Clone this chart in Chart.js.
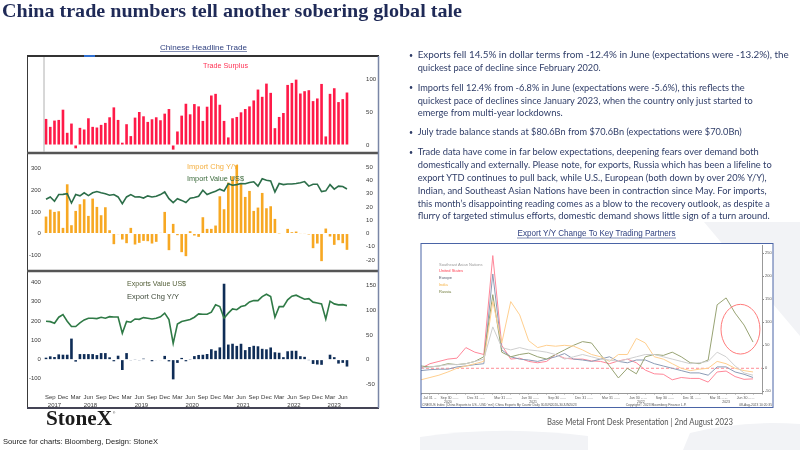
<!DOCTYPE html>
<html>
<head>
<meta charset="utf-8">
<title>China trade numbers</title>
<script src="https://cdn.jsdelivr.net/npm/chart.js@4.4.1/dist/chart.umd.min.js"></script>
<style>
  html, body { margin: 0; padding: 0; }
  body { width: 800px; height: 450px; position: relative; overflow: hidden; background: #fff; }
  canvas, svg { position: absolute; }
  #backdrop { left: 0; top: 0; z-index: 0; }
  canvas { z-index: 1; }
  #overlay { left: 0; top: 0; z-index: 5; pointer-events: none; }
</style>
</head>
<body>
<svg id="backdrop" width="800" height="450">
  <!-- faint logo watermark -->
  <g fill="#f2f3f6">
    <polygon points="704,222 800,222 800,336"/>
    <path d="M420,450 L420,437 Q500,425 588,436 L588,450 Z"/>
    <path d="M683,450 L690,433 Q740,420 800,424 L800,450 Z"/>
  </g>
  <rect x="27" y="55" width="352" height="353" fill="#fff"/>
  <rect x="421" y="243" width="352" height="165" fill="#fff"/>
</svg>

<canvas id="surplusChart" width="350" height="96" style="left:28px;top:57px"></canvas>
<canvas id="importChart" width="350" height="115" style="left:28px;top:155px"></canvas>
<canvas id="exportChart" width="350" height="135" style="left:28px;top:273px"></canvas>
<canvas id="partnerChart" width="352" height="163" style="left:421px;top:245px"></canvas>

<svg id="overlay" width="800" height="450">
  <!-- title -->
  <text x="2" y="17" font-family="Liberation Serif" font-weight="bold" font-size="19" fill="#1f2a57" textLength="460" lengthAdjust="spacingAndGlyphs">China trade numbers tell another sobering global tale</text>

  <!-- left panel frame -->
  <text x="203.5" y="50" font-family="Liberation Sans" font-size="8" fill="#2e3f7f" text-anchor="middle" textLength="87" lengthAdjust="spacingAndGlyphs">Chinese Headline Trade</text>
  <line x1="160" y1="51.5" x2="247" y2="51.5" stroke="#2e3f7f" stroke-width="0.6"/>
  <rect x="27.5" y="55.5" width="351" height="352" fill="none" stroke="#3a3a3a" stroke-width="1"/>
  <line x1="27" y1="56" x2="379" y2="56" stroke="#333" stroke-width="2"/>
  <line x1="84" y1="56" x2="95" y2="56" stroke="#2f6fd0" stroke-width="2"/>
  <line x1="27" y1="153" x2="379" y2="153" stroke="#555" stroke-width="2.5"/>
  <line x1="27" y1="271" x2="379" y2="271" stroke="#555" stroke-width="2.5"/>
  <line x1="27" y1="408" x2="379" y2="408" stroke="#445" stroke-width="2"/>
  <line x1="378.5" y1="56" x2="378.5" y2="408" stroke="#7a86a6" stroke-width="1.5"/>
  <line x1="44" y1="57" x2="44" y2="152" stroke="#b0b0b0" stroke-width="1"/>

  <!-- panel legends -->
  <g font-family="Liberation Sans" font-size="8">
    <text x="203" y="68" fill="#ff3355" textLength="45" lengthAdjust="spacingAndGlyphs">Trade Surplus</text>
    <text x="187" y="169" fill="#f5b041" textLength="51" lengthAdjust="spacingAndGlyphs">Import Chg Y/Y</text>
    <text x="187" y="180.5" fill="#3d6b3d" textLength="57" lengthAdjust="spacingAndGlyphs">Import Value US$</text>
    <text x="127" y="286" fill="#55603a" textLength="59" lengthAdjust="spacingAndGlyphs">Exports Value US$</text>
    <text x="127" y="298.5" fill="#3f4a3a" textLength="52" lengthAdjust="spacingAndGlyphs">Export Chg Y/Y</text>
  </g>

  <!-- logo and source -->
  <text x="46" y="425" font-family="Liberation Serif" font-weight="bold" font-size="20" fill="#1b1b1b" textLength="66" lengthAdjust="spacingAndGlyphs">StoneX</text>
  <text x="113" y="414" font-family="Liberation Sans" font-size="3" fill="#1b1b1b">&#174;</text>
  <text x="3" y="444" font-family="Liberation Sans" font-size="8" fill="#222" textLength="155" lengthAdjust="spacingAndGlyphs">Source for charts: Bloomberg, Design: StoneX</text>

  <!-- bullets -->
  <g font-family="Lato, Open Sans" font-size="9.8" fill="#2f3d68">
    <text x="409" y="57.5" font-size="7">&#8226;</text>
    <text x="417.7" y="58" textLength="371" lengthAdjust="spacingAndGlyphs">Exports fell 14.5% in dollar terms from -12.4% in June (expectations were -13.2%), the</text>
    <text x="417.7" y="71" textLength="183" lengthAdjust="spacingAndGlyphs">quickest pace of decline since February 2020.</text>

    <text x="409" y="90" font-size="7">&#8226;</text>
    <text x="417.7" y="90.5" textLength="327" lengthAdjust="spacingAndGlyphs">Imports fell 12.4% from -6.8% in June (expectations were -5.6%), this reflects the</text>
    <text x="417.7" y="103.7" textLength="335" lengthAdjust="spacingAndGlyphs">quickest pace of declines since January 2023, when the country only just started to</text>
    <text x="417.7" y="116.3" textLength="145" lengthAdjust="spacingAndGlyphs">emerge from multi-year lockdowns.</text>

    <text x="409" y="134.5" font-size="7">&#8226;</text>
    <text x="417.7" y="135" textLength="324" lengthAdjust="spacingAndGlyphs">July trade balance stands at $80.6Bn from $70.6Bn (expectations were $70.0Bn)</text>

    <text x="409" y="154.5" font-size="7">&#8226;</text>
    <text x="417.7" y="155" textLength="341" lengthAdjust="spacingAndGlyphs">Trade data have come in far below expectations, deepening fears over demand both</text>
    <text x="417.7" y="168.3" textLength="354" lengthAdjust="spacingAndGlyphs">domestically and externally. Please note, for exports, Russia which has been a lifeline to</text>
    <text x="417.7" y="181" textLength="349" lengthAdjust="spacingAndGlyphs">export YTD continues to pull back, while U.S., European (both down by over 20% Y/Y),</text>
    <text x="417.7" y="194" textLength="349" lengthAdjust="spacingAndGlyphs">Indian, and Southeast Asian Nations have been in contraction since May. For imports,</text>
    <text x="417.7" y="206.7" textLength="352" lengthAdjust="spacingAndGlyphs">this month’s disappointing reading comes as a blow to the recovery outlook, as despite a</text>
    <text x="417.7" y="219.3" textLength="352" lengthAdjust="spacingAndGlyphs">flurry of targeted stimulus efforts, domestic demand shows little sign of a turn around.</text>
  </g>

  <!-- right chart frame and texts -->
  <text x="596.5" y="236" font-family="Liberation Sans" font-size="8.5" fill="#2e3f7f" text-anchor="middle" textLength="158" lengthAdjust="spacingAndGlyphs">Export Y/Y Change To Key Trading Partners</text>
  <line x1="517" y1="238" x2="676" y2="238" stroke="#2e3f7f" stroke-width="0.6"/>
  <rect x="421" y="243.5" width="352" height="164" fill="none" stroke="#4a64a6" stroke-width="1"/>
  <g font-family="Liberation Sans" font-size="4">
    <text x="439" y="266" fill="#9a9a9a">Southeast Asian Nations</text>
    <text x="439" y="272" fill="#ff3b4e">United States</text>
    <text x="439" y="279" fill="#555d70">Europe</text>
    <text x="439" y="286" fill="#f5b041">India</text>
    <text x="439" y="293" fill="#6f7a3a">Russia</text>
  </g>
  <g font-family="Liberation Sans" font-size="3.3" fill="#555">
    <text x="422" y="406">CNEXUS Index (China Exports to US - USD 'mn') China Exports By Countr   Daily 30JUN2020-30JUN2023</text>
    <text x="656" y="406" text-anchor="middle">Copyright© 2023 Bloomberg Finance L.P.</text>
    <text x="772" y="406" text-anchor="end">08-Aug-2023 10:20:35</text>
  </g>

  <text x="547" y="425" font-family="Lato, Open Sans" font-size="9" fill="#555" textLength="186" lengthAdjust="spacingAndGlyphs">Base Metal Front Desk Presentation  | 2nd August 2023</text>
</svg>

<script>
// monthly categories Aug 2017 - Jul 2023
const months = [
  "Aug 2017", "Sep 2017", "Oct 2017", "Nov 2017", "Dec 2017",
  "Jan 2018", "Feb 2018", "Mar 2018", "Apr 2018", "May 2018", "Jun 2018", "Jul 2018", "Aug 2018", "Sep 2018", "Oct 2018", "Nov 2018", "Dec 2018",
  "Jan 2019", "Feb 2019", "Mar 2019", "Apr 2019", "May 2019", "Jun 2019", "Jul 2019", "Aug 2019", "Sep 2019", "Oct 2019", "Nov 2019", "Dec 2019",
  "Jan 2020", "Feb 2020", "Mar 2020", "Apr 2020", "May 2020", "Jun 2020", "Jul 2020", "Aug 2020", "Sep 2020", "Oct 2020", "Nov 2020", "Dec 2020",
  "Jan 2021", "Feb 2021", "Mar 2021", "Apr 2021", "May 2021", "Jun 2021", "Jul 2021", "Aug 2021", "Sep 2021", "Oct 2021", "Nov 2021", "Dec 2021",
  "Jan 2022", "Feb 2022", "Mar 2022", "Apr 2022", "May 2022", "Jun 2022", "Jul 2022", "Aug 2022", "Sep 2022", "Oct 2022", "Nov 2022", "Dec 2022",
  "Jan 2023", "Feb 2023", "Mar 2023", "Apr 2023", "May 2023", "Jun 2023", "Jul 2023"
];
const quarterMonths = ["Mar", "Jun", "Sep", "Dec"];
const years = ["2017", "2018", "2019", "2020", "2021", "2022", "2023"];

// trade surplus, USD bn
const tradeSurplus = [
  39.5, 27.5, 37, 38, 53.5, 18.5, 32.5, -5, 26, 23.5,
  40.5, 27.5, 26.5, 30.5, 33.5, 42, 57, 38, 3.5, 31.5,
  13.5, 41.5, 50, 43.5, 35, 39, 42, 37.5, 47.5, 54.5,
  -7, 20.5, 44.5, 62.5, 46.5, 62, 58.5, 36.5, 58, 75,
  77.5, 61, 36.5, 11.5, 40.5, 42.5, 49.5, 54.5, 58.5, 67.5,
  84, 73, 93, 79, 25.5, 42.5, 48.5, 91, 94, 99,
  78, 81.5, 83, 66.5, 70.5, 92.5, 13, 77.5, 86, 65,
  69.5, 79.5
];
const surplusTicks = [0, 50, 100];

// imports: y/y % change (right axis) and value USD bn (left axis)
const importChg = [
  12.75, 18, 16.25, 16.75, 4.25, 37, 6.25, 17, 22, 25.75,
  13.25, 26.25, 20, 13.75, 19.75, 2.5, -8, -0.5, -4.5, -7.25,
  4.25, -8.25, -7, -5.5, -5.75, -7.5, -6.25, 0.5, 16.25, -12.5,
  7.25, -1.25, -14, -17, 1.75, -1.5, -2.5, 12.25, 3.5, 3.5,
  6, 28, 18.25, 38.25, 43, 51.5, 37.75, 27.5, 32, 17,
  19.5, 30.5, 19, 20.5, 11, -0.1, 0, 3.5, 1, 1.5,
  0.3, 0.3, -0.7, -11, -7.5, -20.75, 3.75, -2.25, -8.5, -5,
  -7.25, -12.25
];
const importValue = [
  158, 169, 149, 180, 181, 184, 141, 180, 174, 188,
  175, 188, 194, 188, 184, 177, 180, 169, 138, 169,
  180, 169, 170, 164, 174, 169, 172, 180, 192, 161,
  143, 161, 153, 143, 163, 166, 172, 200, 180, 188,
  195, 205, 197, 230, 223, 226, 231, 230, 236, 239,
  219, 253, 246, 243, 192, 231, 226, 229, 229, 231,
  235, 240, 219, 228, 228, 194, 197, 226, 205, 219,
  217, 206
];
const importValueTicks = [-100, 0, 100, 200, 300];
const importChgTicks = [-20, -10, 0, 10, 20, 30, 40, 50];

// exports: y/y % change (right axis) and value USD bn (left axis)
const exportChg = [
  4, 6.7, 5.3, 10.7, 10, 10, 42.7, -4, 11.3, 11.3,
  11.3, 11.3, 9.3, 13.3, 13.3, 4.7, -3.3, 8, -21, 13.3,
  -0.7, 0.7, -1.3, 2, -1, -3.2, -0.9, -1.1, 7.6, -3.5,
  -40, -6.6, 3.5, -3.3, 0.5, 7.2, 9.5, 9.9, 11.4, 21.1,
  18.1, 24.9, 154, 30.6, 32.3, 27.9, 32.2, 19.3, 25.6, 28.1,
  27.1, 22, 20.9, 24.7, 15, 14, 5, 17, 18, 18,
  7, 5.7, -0.5, -8.7, -9.9, -10.5, -1, 10, 5, -8,
  -6.5, -14
];
const exportValue = [
  198, 196, 188, 219, 233, 198, 171, 171, 190, 205,
  214, 214, 212, 219, 214, 222, 220, 220, 136, 197,
  193, 210, 208, 217, 214, 210, 214, 221, 240, 207,
  83, 184, 197, 202, 207, 219, 236, 234, 234, 245,
  283, 274, 214, 240, 262, 258, 274, 280, 298, 305,
  305, 326, 338, 326, 219, 274, 274, 309, 328, 333,
  322, 312, 315, 297, 293, 288, 210, 302, 288, 283,
  284, 279
];
const exportValueTicks = [-100, 0, 100, 200, 300, 400];
const exportChgTicks = [-50, 0, 50, 100, 150];

// exports to key partners, y/y %, Jun 2020 - Jul 2023
const partnerMonths = [
  "Jun 2020", "Jul 2020", "Aug 2020", "Sep 2020", "Oct 2020", "Nov 2020", "Dec 2020",
  "Jan 2021", "Feb 2021", "Mar 2021", "Apr 2021", "May 2021", "Jun 2021", "Jul 2021", "Aug 2021", "Sep 2021", "Oct 2021", "Nov 2021", "Dec 2021",
  "Jan 2022", "Feb 2022", "Mar 2022", "Apr 2022", "May 2022", "Jun 2022", "Jul 2022", "Aug 2022", "Sep 2022", "Oct 2022", "Nov 2022", "Dec 2022",
  "Jan 2023", "Feb 2023", "Mar 2023", "Apr 2023", "May 2023", "Jun 2023", "Jul 2023", "Aug 2023"
];
const partnerTickLabels = [
  "", "Jul 31 ...", "", "Sep 30 ...", "...", "", "Dec 31 ...",
  "...", "", "Mar 31 ...", "...", "", "Jun 30 ...", "...", "", "Sep 30 ...", "...", "", "Dec 31 ...",
  "...", "", "Mar 31 ...", "...", "", "Jun 30 ...", "...", "", "Sep 30 ...", "...", "", "Dec 31 ...",
  "...", "", "Mar 31 ...", "...", "", "Jun 30 ...", "...", ""
];
const partnerTicks = [-50, 0, 50, 100, 150, 200, 250];
const seaChg = [
  0, 3, 5, 8, 8, 10, 15, 20, 90, 45, 40, 45, 40,
  38, 35, 30, 20, 25, 30, 25, 20, 18, 15, 20, 25,
  30, 30, 25, 20, 15, 10, 12, 15, 35, 25, 5, -10, -15
];
const usChg = [
  0, 10, 15, 20, 22, 45, 35, 30, 245, 50, 20, 22, 15,
  12, 15, 30, 22, 20, 20, 16, 15, 10, 16, 20, 12,
  -4, -12, -13, -25, -20, -22, -22, -30, -8, -6, -18, -24, -23
];
const europeChg = [
  -5, -3, -2, -2, 3, 5, 8, 10, 205, 40, 25, 20, 18,
  15, 20, 25, 32, 20, 18, 15, 20, 25, 15, 12, 18,
  18, 10, 5, 0, -5, -10, -10, -15, 3, 3, -8, -13, -20
];
const indiaChg = [
  -25, -20, -15, -8, 0, 5, 10, 15, 145, 55, 145, 116, 60,
  45, 50, 48, 50, 48, 40, 30, 25, 15, 30, 30, 65,
  55, 25, 20, 10, 0, -5, -2, 0, 15, 10, 0, -5, -8
];
const russiaChg = [
  5, 3, 5, 10, 8, 10, 15, 25, 160, 35, 25, 30, 33,
  25, 20, 30, 40, 50, 58, 55, 30, 5, -21, 0, -12,
  25, 30, 28, 35, 25, 12, 10, 18, 138, 153, 120, 94, 57
];

const axisFont = { family: "Liberation Sans, sans-serif", size: 6 };
const tickColor = "#3a3a3a";
const clear = "rgba(0,0,0,0)";

function fixedTicks(values) {
  return (scale) => {
    scale.ticks = values.map((v) => ({ value: v }));
  };
}

// fixed axis thickness, and no label overhang padding into the plot
function fixedSize(size) {
  return (scale) => {
    if (scale.isHorizontal()) {
      scale.height = size;
    } else {
      scale.width = size;
    }
    scale.paddingTop = 0;
    scale.paddingBottom = 0;
    scale.paddingLeft = 0;
    scale.paddingRight = 0;
  };
}

function sideAxis(position, min, max, ticks, width, gap) {
  return {
    position,
    min,
    max,
    afterBuildTicks: fixedTicks(ticks),
    afterFit: fixedSize(width),
    grid: { display: true, drawOnChartArea: false, drawTicks: true, tickLength: gap, color: clear },
    border: { display: false },
    ticks: { padding: 0, autoSkip: false, font: axisFont, color: tickColor }
  };
}

const baseOptions = {
  responsive: false,
  animation: false,
  events: [],
  plugins: { legend: { display: false }, tooltip: { enabled: false } }
};

// top panel: trade surplus
new Chart(document.querySelector("#surplusChart"), {
  type: "bar",
  data: {
    labels: months,
    datasets: [
      {
        data: tradeSurplus,
        backgroundColor: "#ff1a48",
        barPercentage: 0.62,
        categoryPercentage: 1
      }
    ]
  },
  options: {
    ...baseOptions,
    layout: { padding: { left: 15.9, right: 0, top: 0, bottom: 0 } },
    scales: {
      x: { display: false, offset: true },
      y: sideAxis("right", -12.1, 133.3, surplusTicks, 28.9, 17)
    }
  }
});

// middle panel: imports
new Chart(document.querySelector("#importChart"), {
  type: "bar",
  data: {
    labels: months,
    datasets: [
      {
        type: "line",
        data: importValue,
        yAxisID: "yL",
        borderColor: "#2c6e49",
        borderWidth: 1.6,
        pointRadius: 0,
        order: 0
      },
      {
        data: importChg,
        yAxisID: "yR",
        backgroundColor: "#f7a823",
        barPercentage: 0.62,
        categoryPercentage: 1,
        order: 1
      }
    ]
  },
  options: {
    ...baseOptions,
    layout: { padding: 0 },
    scales: {
      x: { display: false, offset: true },
      yL: sideAxis("left", -169, 363, importValueTicks, 15.9, 3),
      yR: sideAxis("right", -27.4, 59, importChgTicks, 28.9, 17)
    }
  }
});

// bottom panel: exports, with year labels under the month ticks
const yearLabels = {
  id: "yearLabels",
  afterDraw(chart, args, opts) {
    const x = chart.scales.x;
    const ctx = chart.ctx;
    ctx.save();
    ctx.font = `${axisFont.size}px ${axisFont.family}`;
    ctx.fillStyle = tickColor;
    ctx.textAlign = "center";
    for (const yr of years) {
      const idx = [];
      months.forEach((m, i) => {
        if (m.endsWith(yr)) idx.push(i);
      });
      const px = (x.getPixelForValue(idx[0]) + x.getPixelForValue(idx[idx.length - 1])) / 2;
      ctx.fillText(yr, px, opts.y);
    }
    ctx.restore();
  }
};

new Chart(document.querySelector("#exportChart"), {
  type: "bar",
  data: {
    labels: months,
    datasets: [
      {
        type: "line",
        data: exportValue,
        yAxisID: "yL",
        borderColor: "#2f7a46",
        borderWidth: 1.6,
        pointRadius: 0,
        order: 0
      },
      {
        data: exportChg,
        yAxisID: "yR",
        backgroundColor: "#0f2d57",
        barPercentage: 0.62,
        categoryPercentage: 1,
        order: 1
      }
    ]
  },
  options: {
    ...baseOptions,
    layout: { padding: 0 },
    plugins: { ...baseOptions.plugins, yearLabels: { y: 134 } },
    scales: {
      x: {
        offset: true,
        afterFit: fixedSize(18),
        grid: { display: true, drawOnChartArea: false, drawTicks: true, tickLength: 4, color: clear },
        border: { display: false },
        ticks: {
          autoSkip: false,
          maxRotation: 0,
          padding: 0,
          font: axisFont,
          color: tickColor,
          callback: (v, i) => {
            const m = months[i].slice(0, 3);
            return quarterMonths.includes(m) ? m : "";
          }
        }
      },
      yL: sideAxis("left", -158, 448, exportValueTicks, 15.9, 3),
      yR: sideAxis("right", -61.6, 175.8, exportChgTicks, 28.9, 17)
    }
  },
  plugins: [yearLabels]
});

// right chart: exports to key trading partners
const partnerDecor = {
  id: "partnerDecor",
  beforeDatasetsDraw(chart) {
    const { ctx, chartArea } = chart;
    const y0 = chart.scales.y.getPixelForValue(0);
    ctx.save();
    ctx.strokeStyle = "#ff8c95";
    ctx.lineWidth = 1;
    ctx.setLineDash([3, 2]);
    ctx.beginPath();
    ctx.moveTo(chartArea.left, y0);
    ctx.lineTo(chartArea.right, y0);
    ctx.stroke();
    ctx.restore();
  },
  afterDatasetsDraw(chart, args, opts) {
    const { ctx } = chart;
    const x = chart.scales.x;
    const y = chart.scales.y;
    const cx = x.getPixelForValue(opts.cx);
    const cy = y.getPixelForValue(opts.cy);
    const rx = Math.abs(x.getPixelForValue(opts.cx + opts.rx) - cx);
    const ry = Math.abs(y.getPixelForValue(opts.cy + opts.ry) - cy);
    ctx.save();
    ctx.strokeStyle = "#ff7b7b";
    ctx.lineWidth = 1;
    ctx.beginPath();
    ctx.ellipse(cx, cy, rx, ry, 0, 0, Math.PI * 2);
    ctx.stroke();
    ctx.font = "3.5px Liberation Sans, sans-serif";
    ctx.fillStyle = "#555";
    ctx.textAlign = "center";
    for (const yr of ["2020", "2021", "2022", "2023"]) {
      const idx = [];
      partnerMonths.slice(0, usChg.length).forEach((m, i) => {
        if (m.endsWith(yr)) idx.push(i);
      });
      const px = (x.getPixelForValue(idx[0]) + x.getPixelForValue(idx[idx.length - 1])) / 2;
      ctx.fillText(yr, px, opts.yearY);
    }
    ctx.restore();
  }
};

function partnerLine(data, color) {
  return { data, borderColor: color, borderWidth: 1, pointRadius: 0, tension: 0 };
}

new Chart(document.querySelector("#partnerChart"), {
  type: "line",
  data: {
    labels: partnerMonths,
    datasets: [
      partnerLine(seaChg, "#cfcfcf"),
      partnerLine(indiaChg, "#ffcf8f"),
      partnerLine(russiaChg, "#98a374"),
      partnerLine(europeChg, "#8c9bb5"),
      partnerLine(usChg, "#ff8799")
    ]
  },
  options: {
    ...baseOptions,
    layout: { padding: 0 },
    plugins: {
      ...baseOptions.plugins,
      partnerDecor: { cx: 35.6, cy: 85, rx: 2.17, ry: 54, yearY: 158 }
    },
    scales: {
      x: {
        afterFit: fixedSize(15),
        grid: { display: true, drawOnChartArea: false, drawTicks: true, tickLength: 1.5, color: "#999" },
        border: { display: true, color: "#999" },
        ticks: {
          autoSkip: false,
          maxRotation: 0,
          padding: 1,
          font: { family: "Liberation Sans, sans-serif", size: 3.5 },
          color: "#555",
          callback: (v, i) => partnerTickLabels[i]
        }
      },
      y: {
        position: "right",
        min: -53.7,
        max: 268,
        afterBuildTicks: fixedTicks(partnerTicks),
        afterFit: fixedSize(11),
        grid: { drawOnChartArea: false, drawTicks: true, tickLength: 2, color: "#888" },
        border: { display: true, color: "#999" },
        ticks: { padding: 1, autoSkip: false, font: { family: "Liberation Sans, sans-serif", size: 4 }, color: "#555" }
      }
    }
  },
  plugins: [partnerDecor]
});
</script>
</body>
</html>
